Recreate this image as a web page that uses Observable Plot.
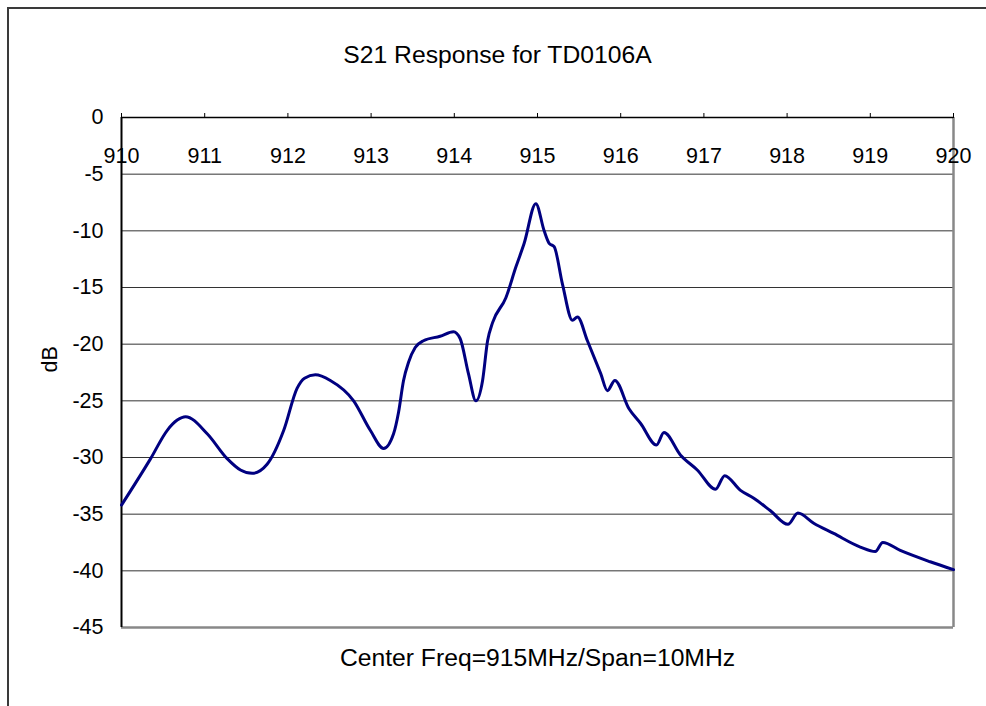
<!DOCTYPE html>
<html>
<head>
<meta charset="utf-8">
<script src="https://cdn.jsdelivr.net/npm/d3@7"></script>
<script src="https://cdn.jsdelivr.net/npm/@observablehq/plot@0.6"></script>
<style>
  html, body { margin: 0; padding: 0; background: #fff; }
  #wrap { position: relative; width: 986px; height: 706px; overflow: hidden; }
  #frame { position: absolute; left: 7px; top: 7px; width: 1000px; height: 720px;
           border-left: 2px solid #3a3a3a; border-top: 2px solid #3a3a3a; pointer-events: none; }
</style>
</head>
<body>
<div id="wrap"><div id="frame"></div></div>
<script>
const titleText = "S21 Response for TD0106A";
const xLabelText = "Center Freq=915MHz/Span=10MHz";
const yLabelText = "dB";
const xTicks = [910, 911, 912, 913, 914, 915, 916, 917, 918, 919, 920];
const yTicks = [0, -5, -10, -15, -20, -25, -30, -35, -40, -45];
const gridLevels = [-5, -10, -15, -20, -25, -30, -35, -40];

const freq = [910.00, 910.35, 910.55, 910.67, 910.77, 911.03, 911.27, 911.43, 911.57, 911.75, 911.95,
  912.11, 912.20, 912.33, 912.51, 912.79, 912.99, 913.15, 913.27, 913.33, 913.39, 913.45,
  913.53, 913.63, 913.83, 913.99, 914.07, 914.17, 914.26, 914.34, 914.40, 914.46,
  914.62, 914.74, 914.84, 914.98, 915.08, 915.14, 915.20, 915.30, 915.42, 915.48,
  915.60, 915.76, 915.84, 915.93, 916.10, 916.24, 916.43, 916.52, 916.72, 916.92,
  917.14, 917.25, 917.44, 917.60, 917.80, 918.01, 918.13, 918.32, 918.56, 918.88,
  919.06, 919.15, 919.36, 919.72, 920.00];
const dB = [-34.2, -30.1, -27.6, -26.7, -26.4, -27.9, -30.1, -31.1, -31.4, -30.6, -27.6,
  -23.9, -23.0, -22.7, -23.2, -25.0, -27.6, -29.2, -27.9, -26.0, -23.2, -21.6,
  -20.3, -19.7, -19.3, -18.9, -19.5, -22.6, -25.0, -23.2, -19.7, -18.1,
  -15.9, -13.2, -11.1, -7.6, -10.0, -11.1, -11.4, -14.7, -17.9, -17.6,
  -19.7, -22.6, -24.1, -23.2, -25.7, -27.0, -28.9, -27.8, -29.8, -31.1,
  -32.8, -31.6, -32.9, -33.6, -34.7, -35.9, -34.9, -35.8, -36.7, -37.9,
  -38.3, -37.5, -38.2, -39.2, -39.9];

const data = freq.map((f, i) => ({f, v: dB[i]}));
const font = "'Liberation Sans', Arial, sans-serif";

const chart = Plot.plot({
  width: 986,
  height: 706,
  marginLeft: 121,
  marginRight: 33,
  marginTop: 117,
  marginBottom: 79,
  style: {fontFamily: font, fontSize: "21px", color: "#000", background: "transparent"},
  x: {domain: [910, 920], axis: null},
  y: {domain: [-45, 0], axis: null},
  marks: [
    Plot.ruleY(gridLevels, {stroke: "#333", strokeWidth: 1}),
    Plot.ruleY([-45], {stroke: "#888", strokeWidth: 2.5}),
    Plot.ruleX([920], {stroke: "#888", strokeWidth: 2.5}),
    Plot.ruleY([0], {stroke: "#000", strokeWidth: 1.5}),
    Plot.ruleX([910], {stroke: "#000", strokeWidth: 2}),
    Plot.axisX(xTicks, {anchor: "top", tickSize: 5, tickFormat: () => "", label: null, stroke: "#000"}),
    Plot.text(xTicks, {x: d => d, frameAnchor: "top", dy: 30, text: d => String(d), fontSize: 21.5}),
    Plot.axisY(yTicks, {anchor: "left", tickSize: 0, tickPadding: 18, fontSize: 21.5, label: null, tickFormat: d => String(d)}),
    Plot.line(data, {x: "f", y: "v", stroke: "#000080", strokeWidth: 3, curve: "monotone-x"}),
    Plot.text([titleText], {frameAnchor: "top", dx: -40, dy: -72, text: d => d, fontSize: 24.7}),
    Plot.text([xLabelText], {frameAnchor: "bottom", dy: 38, text: d => d, fontSize: 24.7}),
    Plot.text([yLabelText], {frameAnchor: "left", dx: -71, rotate: -90, text: d => d, fontSize: 21.5})
  ]
});
chart.style.position = "absolute";
chart.style.left = "0px";
chart.style.top = "0px";
document.getElementById("wrap").insertBefore(chart, document.getElementById("frame"));
</script>
</body>
</html>
